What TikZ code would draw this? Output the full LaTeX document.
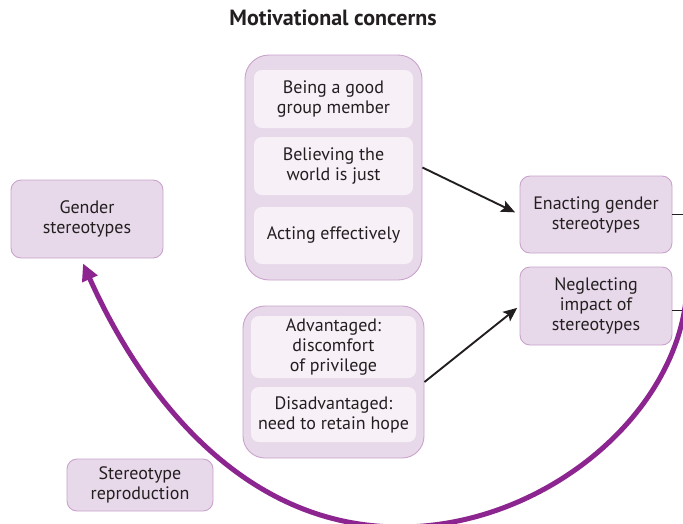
\documentclass[tikz,border=0pt]{standalone}
\usepackage{fontspec}
\setmainfont{PT Sans}
\usetikzlibrary{arrows.meta}
\definecolor{boxfill}{HTML}{E8D9EA}
\definecolor{boxline}{HTML}{C9A3CC}
\definecolor{innerfill}{HTML}{F7F0F7}
\definecolor{arcpurple}{HTML}{8C2590}
\definecolor{txt}{HTML}{231F20}
\begin{document}
\begin{tikzpicture}[x=1pt,y=-1pt,
  every node/.style={text=txt, font=\fontsize{18}{20}\selectfont, align=center, inner sep=0pt},
  pbox/.style={draw=boxline, fill=boxfill, line width=0.9pt, rounded corners=10pt},
  outerbox/.style={draw=boxline, fill=boxfill, line width=0.9pt, rounded corners=24pt},
  innerbox/.style={fill=innerfill, draw=none, rounded corners=8pt},
  blackarrow/.style={draw=txt, line width=1.9pt, -{Stealth[length=14pt,width=12pt,inset=3pt]}},
  edgeline/.style={draw=txt, line width=1pt},
  arcstyle/.style={draw=arcpurple, line width=5pt, -{Triangle[length=17pt,width=16pt]}}
]
\useasboundingbox (0,0) rectangle (683,523);

\node[font=\bfseries\fontsize{22}{24}\selectfont] (title) at (333,18) {Motivational concerns};

% upper group
\node[outerbox, minimum width=177pt, minimum height=225pt] (mc) at (333.5,167.5) {};
\node[innerbox, minimum width=159pt, minimum height=58pt] (m1) at (333.5,99) {Being a good\\group member};
\node[innerbox, minimum width=159pt, minimum height=58pt] (m2) at (333.5,166) {Believing the\\world is just};
\node[innerbox, minimum width=159pt, minimum height=57pt] (m3) at (333.5,235.5) {Acting effectively};

% lower group
\node[outerbox, rounded corners=22pt, minimum width=181pt, minimum height=152pt] (ad) at (333.5,382) {};
\node[innerbox, minimum width=165pt, minimum height=62pt] (a1) at (333.5,347) {Advantaged:\\discomfort\\of privilege};
\node[innerbox, minimum width=165pt, minimum height=55pt] (a2) at (333.5,414.5) {Disadvantaged:\\need to retain hope};

% single boxes
\node[pbox, minimum width=152pt, minimum height=78pt] (gender) at (87,219) {Gender\\stereotypes};
\node[pbox, minimum width=152pt, minimum height=77pt] (enact) at (596,214.5) {Enacting gender\\stereotypes};
\node[pbox, minimum width=152pt, minimum height=78pt] (neglect) at (596,306) {Neglecting\\impact of\\stereotypes};
\node[pbox, minimum width=146pt, minimum height=52pt] (repro) at (140,485) {Stereotype\\reproduction};

% arrows
\draw[blackarrow, shorten >=5pt] (mc.east) -- (enact.west);
\draw[blackarrow, shorten >=3pt] (ad.east) -- (neglect.west);

% lines to right edge
\coordinate (e1) at (683,214.5);
\coordinate (e2) at (683,310);
\draw[edgeline] (enact.east) -- (e1);
\draw[edgeline] (neglect.east |- e2) -- (e2);

% purple arc
\coordinate (arcstart) at (686,300);
\begin{scope}
\clip (0,0) rectangle (683,523);
\draw[arcstyle] (arcstart) .. controls (672,420) and (540,527) .. (400,527)
  .. controls (210,527) and (115,335) .. ([xshift=-4pt,yshift=-5pt]gender.south);
\end{scope}
\end{tikzpicture}
\end{document}
